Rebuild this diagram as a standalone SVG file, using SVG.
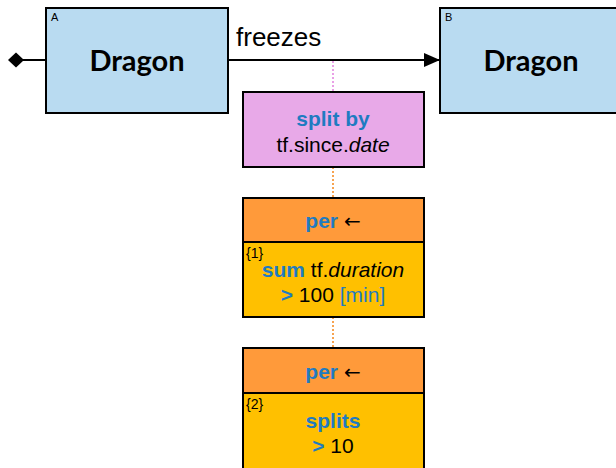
<svg xmlns="http://www.w3.org/2000/svg" width="616" height="468" viewBox="0 0 616 468">
<style>
.ent{fill:#B9DBF1;stroke:#000;stroke-width:2}
.big{font-family:Lato,"Open Sans",sans-serif;font-weight:bold;font-size:29px;fill:#000;text-anchor:middle}
.lbl{font-family:"Liberation Sans",Arial,sans-serif;font-size:11px;fill:#000}
.idx{font-family:"Liberation Sans",Arial,sans-serif;font-size:14px;fill:#000}
.t{font-family:"Liberation Sans",Arial,sans-serif;font-size:21px;fill:#000;text-anchor:middle}
.kw{fill:#1F7BC1;font-weight:bold}
.unit{fill:#1F7BC1}
.ar{font-family:"DejaVu Sans",sans-serif;font-size:20px}
.box{stroke:#000;stroke-width:2}
.dot{stroke-width:2;stroke-dasharray:2 2;fill:none}
</style>
<defs>
<marker id="arr" markerWidth="16" markerHeight="14" refX="16" refY="7" orient="auto" markerUnits="userSpaceOnUse">
<path d="M0,0 L16,7 L0,14 Z" fill="#000"/>
</marker>
</defs>
<g id="connectors">
<line x1="46" y1="60" x2="22" y2="60" stroke="#000" stroke-width="2"/>
<path d="M8,60 L16,52.5 L24,60 L16,67.5 Z" fill="#000"/>
<line x1="228" y1="60" x2="440" y2="60" stroke="#000" stroke-width="2" marker-end="url(#arr)"/>
<text x="236" y="46" font-family="Liberation Sans,Arial,sans-serif" font-size="26" fill="#000">freezes</text>
<line class="dot" x1="333" y1="61" x2="333" y2="92" stroke="#E9A0E6"/>
<line class="dot" x1="333" y1="167" x2="333" y2="198" stroke="#F7A350"/>
<line class="dot" x1="333" y1="317" x2="333" y2="348" stroke="#F7A350"/>
</g>
<g id="nodeA">
<rect class="ent" x="46" y="8" width="182" height="105"/>
<text class="lbl" x="51" y="21">A</text>
<text class="big" x="137" y="71">Dragon</text>
</g>
<g id="nodeB">
<rect class="ent" x="440" y="8" width="182" height="105"/>
<text class="lbl" x="445" y="21">B</text>
<text class="big" x="531" y="71">Dragon</text>
</g>
<g id="split">
<rect class="box" x="243" y="92" width="181" height="75" fill="#E8A9E8"/>
<text class="t" x="333" y="126"><tspan class="kw">split by</tspan></text>
<text class="t" x="333" y="152">tf.since.<tspan font-style="italic">date</tspan></text>
</g>
<g id="per1">
<rect class="box" x="243" y="198" width="181" height="44" fill="#FF9A3A"/>
<rect class="box" x="243" y="242" width="181" height="75" fill="#FFC000"/>
<text class="t" x="333" y="228"><tspan class="kw">per</tspan> <tspan class="ar">←</tspan></text>
<text class="idx" x="246" y="258">{1}</text>
<text class="t" x="333" y="277"><tspan class="kw">sum</tspan> tf.<tspan font-style="italic">duration</tspan></text>
<text class="t" x="333" y="302"><tspan class="kw">&gt;</tspan> 100 <tspan class="unit">[min]</tspan></text>
</g>
<g id="per2">
<rect class="box" x="243" y="348" width="181" height="45" fill="#FF9A3A"/>
<rect class="box" x="243" y="393" width="181" height="80" fill="#FFC000"/>
<text class="t" x="333" y="379"><tspan class="kw">per</tspan> <tspan class="ar">←</tspan></text>
<text class="idx" x="246" y="409">{2}</text>
<text class="t" x="333" y="428"><tspan class="kw">splits</tspan></text>
<text class="t" x="333" y="453"><tspan class="kw">&gt;</tspan> 10</text>
</g>
</svg>
